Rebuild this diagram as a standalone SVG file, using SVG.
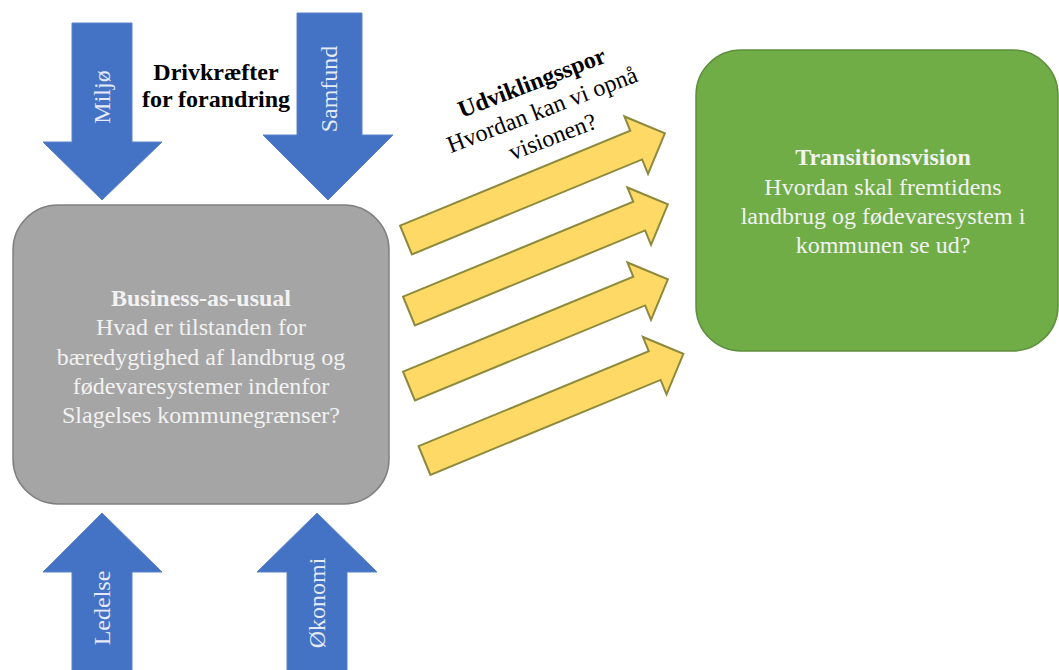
<svg xmlns="http://www.w3.org/2000/svg" width="1059" height="670" viewBox="0 0 1059 670">
<defs>
<style>
.blue{fill:#4472C4;stroke:#5B82C9;stroke-width:1}
.yel{fill:#FFD966;stroke:#8C8A3C;stroke-width:2;stroke-linejoin:miter}
.t{font-family:"Liberation Serif","Times New Roman",serif;font-size:24px;text-anchor:middle}
.b{font-weight:bold}
.w{fill:#F2F2F2}
.lt{fill:#E4EAF6}
.k{fill:#000}
</style>
<path id="ya" d="M0,-15.5 H249 V-31 L280,0 L249,31 V15.5 H0 Z"/>
</defs>
<g id="connectors">
<path id="miljo-arrow" class="blue" d="M72,23 H132 V142 H162 L102,200 L43,142 H72 Z"/>
<path id="samfund-arrow" class="blue" d="M297,13 H362 V135 H393 L328,200 L263,135 H297 Z"/>
<path id="ledelse-arrow" class="blue" d="M102,513 L162,572 H132 V672 H72 V572 H43 Z"/>
<path id="okonomi-arrow" class="blue" d="M317,513 L377,572 H347 V672 H287 V572 H257 Z"/>
<use href="#ya" class="yel" transform="translate(406,240) rotate(-22.4)"/>
<use href="#ya" class="yel" transform="translate(409,311) rotate(-22.4)"/>
<use href="#ya" class="yel" transform="translate(409,386) rotate(-22.4)"/>
<use href="#ya" class="yel" transform="translate(424.5,460.5) rotate(-22.4)"/>
</g>
<g id="labels-arrows">
<text class="t lt" transform="translate(110,97) rotate(-90)">Miljø</text>
<text class="t lt" transform="translate(337,89) rotate(-90)">Samfund</text>
<text class="t lt" transform="translate(110,608) rotate(-90)">Ledelse</text>
<text class="t lt" transform="translate(325,603) rotate(-90)">Økonomi</text>
</g>
<g id="drivers-title">
<text class="t b k" x="216" y="80">Drivkræfter</text>
<text class="t b k" x="216" y="107">for forandring</text>
</g>
<g id="udviklingsspor" transform="translate(545,117) rotate(-21)">
<text class="t b k" x="0" y="-29">Udviklingsspor</text>
<text class="t k" x="0" y="0">Hvordan kan vi opnå</text>
<text class="t k" x="0" y="29">visionen?</text>
</g>
<g id="business-as-usual">
<rect x="13" y="205" width="376" height="299" rx="45" ry="45" fill="#A5A5A5" stroke="#808080" stroke-width="1.5"/>
<text class="t b w" x="201" y="306">Business-as-usual</text>
<text class="t w" x="201" y="335">Hvad er tilstanden for</text>
<text class="t w" x="201" y="365">bæredygtighed af landbrug og</text>
<text class="t w" x="201" y="394">fødevaresystemer indenfor</text>
<text class="t w" x="201" y="423">Slagelses kommunegrænser?</text>
</g>
<g id="transitionsvision">
<rect x="696" y="50" width="362" height="301" rx="45" ry="45" fill="#70AD47" stroke="#5E8F3C" stroke-width="1.5"/>
<text class="t b w" x="883" y="165">Transitionsvision</text>
<text class="t w" x="883" y="195">Hvordan skal fremtidens</text>
<text class="t w" x="883" y="224">landbrug og fødevaresystem i</text>
<text class="t w" x="883" y="253">kommunen se ud?</text>
</g>
</svg>
